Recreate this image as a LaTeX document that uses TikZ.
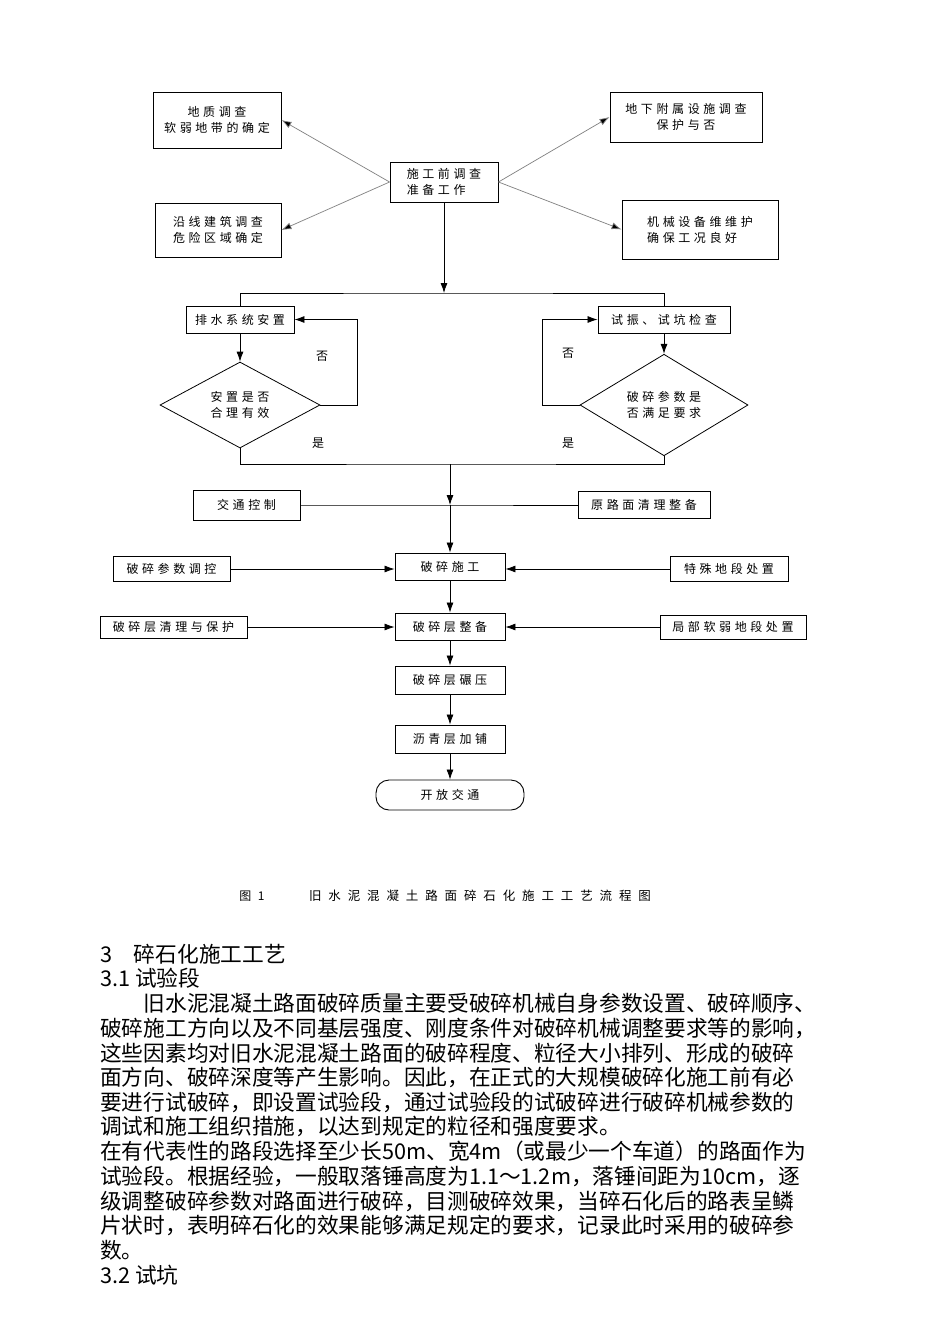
\documentclass[tikz,border=0pt]{standalone}
\usepackage{fontspec}
\setmainfont{Noto Sans CJK SC}
\newfontfamily\flowfont[LetterSpace=30]{Noto Sans CJK SC}
\newfontfamily\capfont[LetterSpace=55]{Noto Sans CJK SC}
\usetikzlibrary{shapes.geometric,arrows.meta}

\begin{document}
\begin{tikzpicture}[x=1pt,y=-1pt,
    box/.style={draw,line width=0.9pt,align=center,inner sep=0pt,
      font=\flowfont\fontsize{12}{16}\selectfont},
    dia/.style={diamond,draw,line width=0.8pt,align=center,inner sep=0pt,
      font=\flowfont\fontsize{12}{16}\selectfont},
    arr/.style={line width=0.8pt,-{Latex[length=10pt,width=7pt]}},
    diag/.style={gray,line width=0.7pt,-{Latex[length=10pt,width=7pt,fill=black]}},
    lbl/.style={font=\flowfont\fontsize{12}{14}\selectfont},
    body/.style={anchor=west,inner sep=0pt,font=\fontsize{21.7}{24}\selectfont}]
  \fill[white] (0,0) rectangle (950,1344);
  \useasboundingbox (0,0) rectangle (950,1344);

  % survey before construction
  \node[box,minimum width=108pt,minimum height=40pt,align=left] (zz) at (444,182) {施工前调查\\准备工作};
  \node[box,minimum width=128pt,minimum height=56pt] (dz) at (217,120) {地质调查\\软弱地带的确定};
  \node[box,minimum width=152pt,minimum height=50pt] (dx) at (686,117) {地下附属设施调查\\保护与否};
  \node[box,minimum width=126pt,minimum height=54pt] (yx) at (218,230) {沿线建筑调查\\危险区域确定};
  \node[box,minimum width=156pt,minimum height=59pt,align=left] (jx) at (700,229.5) {机械设备维维护\\确保工况良好};
  \draw[diag] (zz.west) -- (dz.east);
  \draw[diag] (zz.west) -- (yx.east);
  \draw[diag] (zz.east) -- (dx.west);
  \draw[diag] (zz.east) -- (jx.west);

  % drainage and trial checks
  \node[box,minimum width=108pt,minimum height=27pt] (ps) at (240,319.5) {排水系统安置};
  \node[box,minimum width=132pt,minimum height=27pt] (sz) at (664,319.5) {试振、试坑检查};
  \node[dia,minimum width=160pt,minimum height=86pt] (dl) at (240,405) {安置是否\\合理有效};
  \node[dia,minimum width=168pt,minimum height=86pt] (dr) at (664,405) {破碎参数是\\否满足要求};
  \coordinate (j1) at (444,293);
  \draw[arr] (zz.south) -- (j1);
  \draw[line width=0.8pt] (ps.north) |- (j1) -| (sz.north);
  \draw[arr] (ps) -- (dl);
  \draw[arr] (sz) -- (dr);
  \draw[arr] (dl.east) -- ++(37,0) |- (ps.east);
  \draw[arr] (dr.west) -- ++(-37,0) |- (sz.west);
  \node[lbl] (f1) at (322,356) {否};
  \node[lbl] (f2) at (568,353) {否};
  \node[lbl] (s1) at (318,443) {是};
  \node[lbl] (s2) at (568,443) {是};

  % main line
  \node[box,minimum width=107pt,minimum height=30pt] (jt) at (246.5,505) {交通控制};
  \node[box,minimum width=132pt,minimum height=27pt] (yl) at (644,505) {原路面清理整备};
  \coordinate (j2) at (450,464);
  \coordinate (j3) at (450,505);
  \draw[line width=0.8pt] (dl.south) |- (j2) -| (dr.south);
  \draw[arr] (j2) -- (j3);
  \draw[line width=0.8pt] (jt.east) -- (j3) -- (yl.west);

  \node[box,minimum width=110pt,minimum height=27pt] (sg) at (450,566.5) {破碎施工};
  \node[box,minimum width=117pt,minimum height=25pt] (cs) at (171.5,569) {破碎参数调控};
  \node[box,minimum width=118pt,minimum height=25pt] (ts) at (729,569) {特殊地段处置};
  \node[box,minimum width=110pt,minimum height=27pt] (zb) at (450,626.5) {破碎层整备};
  \node[box,minimum width=147pt,minimum height=22pt] (ql) at (173.5,627) {破碎层清理与保护};
  \node[box,minimum width=146pt,minimum height=24pt] (jb) at (733,627) {局部软弱地段处置};
  \node[box,minimum width=110pt,minimum height=28pt] (ny) at (450,680) {破碎层碾压};
  \node[box,minimum width=110pt,minimum height=28pt] (lq) at (450,739) {沥青层加铺};
  \node[box,rounded corners=13pt,minimum width=148pt,minimum height=30pt] (kf) at (450,795) {开放交通};
  \draw[arr] (j3) -- (sg);
  \draw[arr] (cs.east) -- (sg.west |- cs.east);
  \draw[arr] (ts.west) -- (sg.east |- ts.west);
  \draw[arr] (sg) -- (zb);
  \draw[arr] (ql.east) -- (zb.west |- ql.east);
  \draw[arr] (jb.west) -- (zb.east |- jb.west);
  \draw[arr] (zb) -- (ny);
  \draw[arr] (ny) -- (lq);
  \draw[arr] (lq) -- (kf);

  % caption
  \node[font=\capfont\fontsize{12}{14}\selectfont] (c0) at (252,896) {图1};
  \node[font=\capfont\fontsize{12.5}{14}\selectfont] (c1) at (480,896) {旧水泥混凝土路面碎石化施工工艺流程图};

  % text below
  \foreach \t [count=\i from 0] in {3\quad 碎石化施工工艺,3.1 试验段,
    \hspace*{2em}旧水泥混凝土路面破碎质量主要受破碎机械自身参数设置、破碎顺序、,
    破碎施工方向以及不同基层强度、刚度条件对破碎机械调整要求等的影响，,
    这些因素均对旧水泥混凝土路面的破碎程度、粒径大小排列、形成的破碎,
    面方向、破碎深度等产生影响。因此，在正式的大规模破碎化施工前有必,
    要进行试破碎，即设置试验段，通过试验段的试破碎进行破碎机械参数的,
    调试和施工组织措施，以达到规定的粒径和强度要求。,
    在有代表性的路段选择至少长50m、宽4m（或最少一个车道）的路面作为,
    试验段。根据经验，一般取落锤高度为1.1～1.2m，落锤间距为10cm，逐,
    级调整破碎参数对路面进行破碎，目测破碎效果，当碎石化后的路表呈鳞,
    片状时，表明碎石化的效果能够满足规定的要求，记录此时采用的破碎参,
    数。,3.2 试坑}
    \node[body] (b\i) at (100,954+24.7*\i) {\t};
\end{tikzpicture}
\end{document}
